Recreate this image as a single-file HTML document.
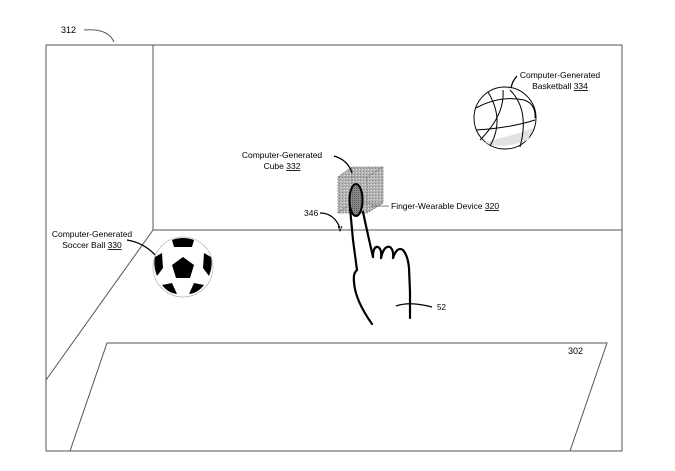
<!DOCTYPE html>
<html><head><meta charset="utf-8"><style>
html,body{margin:0;padding:0;background:#fff;}
svg{display:block;font-family:"Liberation Sans",sans-serif;}
</style></head><body>
<svg width="675" height="471" viewBox="0 0 675 471" xmlns="http://www.w3.org/2000/svg">
<defs>
<pattern id="dots" width="3" height="3" patternUnits="userSpaceOnUse">
<rect width="3" height="3" fill="#b4b4b4"/><rect x="0" y="0" width="1" height="1" fill="#888"/><rect x="2" y="1" width="1" height="1" fill="#ddd"/>
</pattern>
<pattern id="dots2" width="2" height="2" patternUnits="userSpaceOnUse">
<rect width="2" height="2" fill="#888"/><rect width="1" height="1" fill="#555"/>
</pattern>
</defs>
<g fill="none" stroke="#555" stroke-width="1">
<rect x="46" y="45" width="576" height="406"/>
<polyline points="153,45 153,230 622,230"/>
<line x1="153" y1="230" x2="46" y2="380"/>
<polygon points="107,343 607,343 570,451 70,451"/>
<path d="M84,30 Q108,28 114,42"/>
</g>
<text x="61" y="33" font-size="9">312</text>
<text x="568" y="354" font-size="9">302</text>
<g stroke="#777" stroke-width="0.8" stroke-dasharray="2,1">
<polygon points="338,177 352,167 383,167 383,203 367,213 338,213" fill="url(#dots)"/>
<polyline points="338,177 367,177 383,167" fill="none"/>
<line x1="367" y1="177" x2="367" y2="213"/>
<polyline points="338,213 352,203 383,203" fill="none"/>
<line x1="352" y1="167" x2="352" y2="203"/>
</g>
<ellipse cx="356" cy="200" rx="6.5" ry="16" fill="url(#dots2)" stroke="#000" stroke-width="2"/>
<g fill="none" stroke="#000" stroke-width="2.2" stroke-linecap="round" stroke-linejoin="round">
<path d="M350,208 L353,240 L357,270 Q353,273 354,282 Q355,300 372,324"/>
<path d="M363,212 L368,235 L373,257"/>
<path d="M373,257 Q373,246 378,247 Q382,249 381,258"/>
<path d="M381,258 Q384,245 390,247 Q394,250 393,258"/>
<path d="M393,258 Q397,246 403,250 Q408,256 409,268 L410,292 L410,318"/>
</g>
<path d="M396,306 Q410,301 432,307" fill="none" stroke="#000" stroke-width="1.2"/>
<text x="437" y="310" font-size="8">52</text>
<text x="304" y="216" font-size="8.5">346</text>
<path d="M320,213 Q334,213 340,228" fill="none" stroke="#000" stroke-width="1.2"/>
<path d="M338,226 L340,231 L342,226" fill="none" stroke="#000" stroke-width="0.8"/>
<text x="282" y="158" font-size="8.5" text-anchor="middle">Computer-Generated</text>
<text x="282" y="169" font-size="8.5" text-anchor="middle">Cube <tspan text-decoration="underline">332</tspan></text>
<path d="M334,156 Q348,160 352,173" fill="none" stroke="#000" stroke-width="1.3"/>
<text x="391" y="209" font-size="8.5">Finger-Wearable Device <tspan text-decoration="underline">320</tspan></text>
<line x1="371" y1="206" x2="389" y2="206" stroke="#555" stroke-width="0.7"/>
<text x="92" y="237" font-size="8.5" text-anchor="middle">Computer-Generated</text>
<text x="92" y="248" font-size="8.5" text-anchor="middle">Soccer Ball <tspan text-decoration="underline">330</tspan></text>
<path d="M127,240 Q145,243 157,257" fill="none" stroke="#000" stroke-width="1.3"/>
<circle cx="183" cy="267" r="30" fill="#fff" stroke="#bbb" stroke-width="0.8"/>
<g fill="#000">
<polygon points="183,257 194,265 190,278 176,278 172,265"/>
<path d="M172,240 Q183,236 194,240 L192,247 L174,247 Z"/>
<path d="M155,257 L162,253 L163,268 L157,276 Q153,266 155,257 Z"/>
<path d="M211,257 L204,253 L203,268 L209,276 Q213,266 211,257 Z"/>
<path d="M162,285 L172,283 L177,294 Q168,293 162,285 Z"/>
<path d="M204,285 L194,283 L189,294 Q198,293 204,285 Z"/>
</g>
<text x="560" y="78" font-size="8.5" text-anchor="middle">Computer-Generated</text>
<text x="560" y="89" font-size="8.5" text-anchor="middle">Basketball <tspan text-decoration="underline">334</tspan></text>
<path d="M517,76 Q509,85 512,94" fill="none" stroke="#000" stroke-width="1.3"/>
<circle cx="505" cy="118" r="31" fill="#fff" stroke="#000" stroke-width="1"/>
<path d="M485,142 Q515,135 533,128 L528,140 Q510,148 490,145 Z" fill="#e2e2e2"/>
<g fill="none" stroke="#000" stroke-width="1">
<path d="M476,108 Q500,95 524,100 Q536,104 535,118"/>
<path d="M480,140 Q505,115 503,90"/>
<path d="M488,92 Q505,120 490,146"/>
<path d="M510,90 Q530,110 520,147"/>
<path d="M476,130 Q510,128 535,120"/>
</g>
</svg>
</body></html>
